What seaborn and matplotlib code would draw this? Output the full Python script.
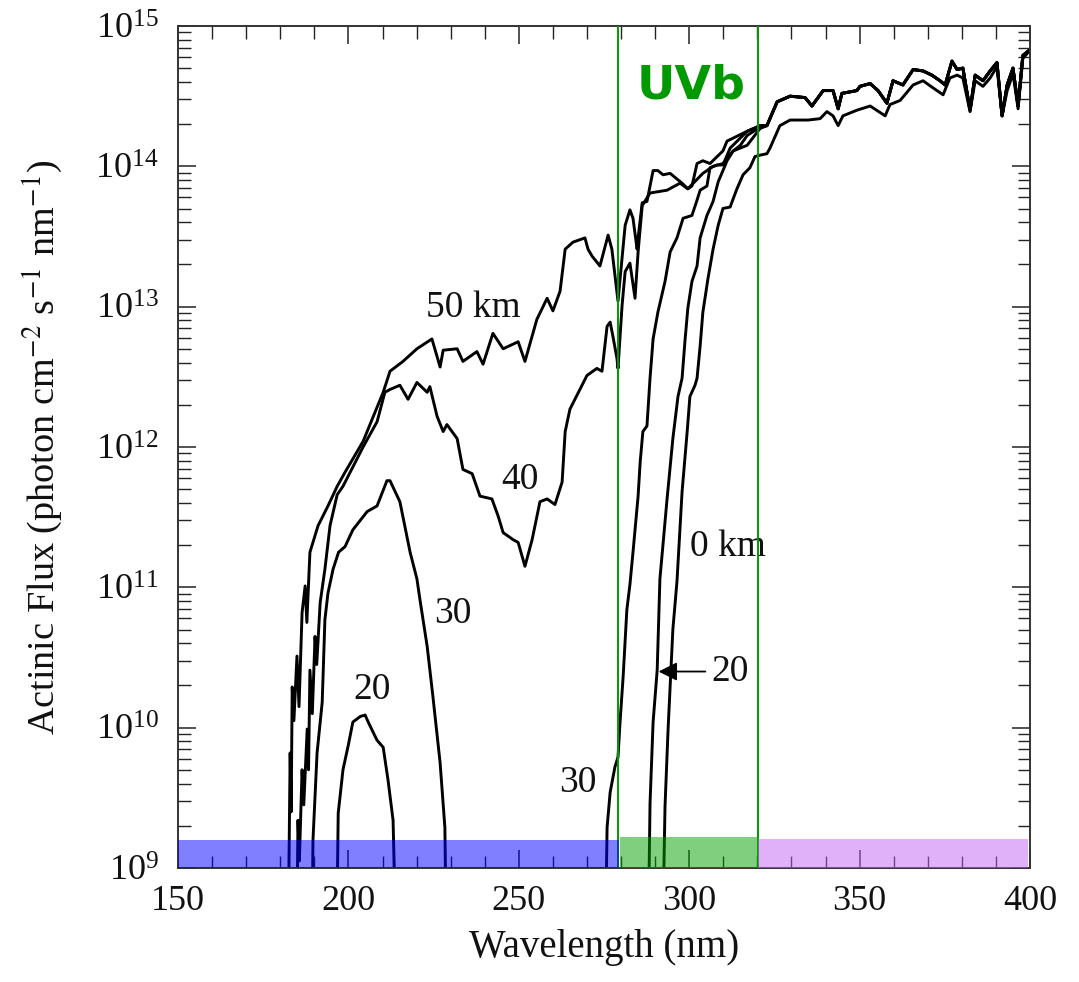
import numpy as np
import pandas as pd
import matplotlib
matplotlib.use("Agg")
import matplotlib.pyplot as plt
import seaborn as sns
from matplotlib.ticker import MultipleLocator, LogLocator, NullFormatter

# ---------------- data (wavelength nm, log10 actinic flux) ----------------
wl_50 = [182.1, 182.9, 183.2, 183.5, 184.0, 184.9, 185.5, 186.4, 187.3, 187.8, 188.7, 191.1, 194.0,
         196.7, 199.0, 204.3, 210.2, 212.2, 216.0, 220.1, 224.5, 226.9, 227.8, 231.9, 233.6, 237.7,
         239.5, 242.4, 245.4, 249.8, 251.8, 255.3, 258.3, 260.0, 262.1, 263.6, 265.9, 269.4, 270.3,
         271.5, 273.8, 276.2, 277.3, 279.1, 281.2, 282.6, 283.5, 284.7, 285.0, 286.2, 287.6, 288.5,
         289.4, 290.8, 292.3, 294.4, 296.4, 297.9, 299.6, 300.8, 302.3, 304.0, 306.1, 308.2, 309.9,
         311.1, 317.0, 320.8]
log_50 = [8.0, 9.82, 9.40, 10.29, 10.05, 10.51, 10.15, 10.82, 11.01, 10.75, 11.25, 11.44, 11.58,
          11.72, 11.82, 12.04, 12.39, 12.54, 12.61, 12.70, 12.77, 12.57, 12.69, 12.70, 12.61, 12.68,
          12.59, 12.81, 12.70, 12.75, 12.61, 12.91, 13.06, 12.97, 13.11, 13.41, 13.46, 13.49, 13.41,
          13.36, 13.29, 13.51, 13.41, 13.04, 13.58, 13.69, 13.63, 13.41, 13.49, 13.74, 13.75, 13.86,
          13.97, 13.97, 13.94, 13.95, 13.91, 13.88, 13.84, 13.86, 14.02, 14.04, 14.02, 14.07, 14.11,
          14.18, 14.25, 14.29]

wl_40 = [184.6, 185.2, 185.6, 186.4, 186.9, 187.9, 188.3, 188.7, 189.4, 190.2, 190.7, 191.7, 193.1,
         194.6, 196.7, 198.4, 204.3, 208.4, 210.7, 212.2, 215.1, 217.5, 220.1, 223.1, 223.9, 226.0,
         227.8, 228.9, 231.9, 233.6, 236.3, 238.6, 242.1, 243.9, 245.4, 248.3, 249.8, 251.8, 253.9,
         256.2, 258.3, 260.6, 262.7, 263.6, 265.0, 270.0, 272.9, 274.4, 275.9, 276.8, 277.6, 278.8,
         279.1, 280.3, 281.2, 282.6, 284.1, 285.0, 286.2, 288.5, 293.5, 297.3, 299.6, 304.0, 307.0,
         309.9, 312.9, 315.0, 317.0, 320.8]
log_40 = [8.0, 9.34, 9.05, 9.70, 9.45, 9.99, 9.70, 10.41, 10.10, 10.65, 10.45, 10.89, 11.13,
          11.44, 11.66, 11.72, 12.00, 12.18, 12.39, 12.41, 12.44, 12.34, 12.46, 12.39, 12.43, 12.22,
          12.11, 12.16, 12.06, 11.84, 11.81, 11.65, 11.63, 11.51, 11.39, 11.34, 11.32, 11.15, 11.34,
          11.61, 11.63, 11.59, 11.75, 12.11, 12.27, 12.51, 12.56, 12.54, 12.86, 12.89, 12.79, 12.63,
          12.56, 13.01, 13.25, 13.31, 13.06, 13.39, 13.72, 13.81, 13.83, 13.88, 13.84, 13.95, 14.00,
          14.02, 14.11, 14.15, 14.22, 14.28]

wl_30a = [189.1, 189.6, 190.8, 192.3, 193.1, 194.0, 195.5, 197.1, 199.0, 201.3, 205.5, 208.4,
          211.3, 212.2, 215.1, 218.1, 220.1, 221.0, 223.1, 224.8, 226.9, 228.3, 229.0]
log_30a = [8.0, 9.20, 9.82, 10.18, 10.77, 10.96, 11.13, 11.25, 11.29, 11.41, 11.54, 11.58,
           11.76, 11.76, 11.61, 11.25, 11.06, 10.91, 10.58, 10.22, 9.75, 9.29, 8.0]

wl_30b = [275.1, 275.9, 276.8, 278.2, 279.1, 279.7, 280.6, 281.7, 282.6, 283.5, 285.0, 285.6,
          286.4, 287.6, 288.5, 289.4, 290.8, 292.9, 294.4, 296.4, 298.2, 300.8, 302.3, 303.2,
          305.2, 306.1, 308.2, 309.9, 312.0, 317.0, 320.8]
log_30b = [8.0, 9.29, 9.54, 9.72, 9.79, 10.04, 10.36, 10.84, 11.02, 11.25, 11.65, 11.89,
           12.11, 12.15, 12.49, 12.77, 12.96, 13.18, 13.39, 13.49, 13.63, 13.65, 13.76, 13.83,
           13.86, 13.99, 14.01, 14.01, 14.13, 14.25, 14.29]

wl_20a = [196.3, 197.0, 198.4, 200.0, 201.3, 203.5, 204.9, 205.8, 208.4, 210.2, 211.6, 213.1, 214.4]
log_20a = [8.0, 9.39, 9.70, 9.88, 10.04, 10.08, 10.09, 10.04, 9.91, 9.86, 9.63, 9.34, 8.0]

wl_20b = [287.7, 288.5, 289.4, 290.6, 291.4, 293.5, 295.2, 296.7, 297.9, 298.8, 299.6, 300.8,
          302.3, 303.2, 305.2, 307.0, 308.5, 309.9, 311.1, 312.9, 317.0, 320.8]
log_20b = [8.0, 9.46, 10.04, 10.41, 11.06, 11.63, 12.06, 12.36, 12.49, 12.77, 12.99, 13.18,
           13.29, 13.49, 13.65, 13.75, 13.89, 13.97, 14.04, 14.11, 14.15, 14.27]

wl_0 = [291.8, 292.9, 293.8, 295.2, 296.4, 297.9, 299.4, 300.2, 301.7, 302.3, 303.2, 304.0,
        305.5, 307.0, 308.5, 309.9, 312.0, 314.0, 315.8, 317.8, 319.3, 320.8, 322.8]
log_0 = [8.0, 9.44, 9.99, 10.70, 11.04, 11.68, 12.11, 12.36, 12.44, 12.49, 12.72, 12.96,
         13.20, 13.41, 13.58, 13.70, 13.71, 13.84, 13.94, 13.99, 14.07, 14.08, 14.09]

# long-wavelength parts shared by the upper altitudes / the ground curve
wl_upper = [322.8, 325.8, 329.6, 334.0, 336.0, 339.3, 342.2, 343.7, 344.8, 349.2, 350.1, 353.1,
            355.4, 358.0, 359.8, 362.7, 365.7, 368.6, 371.2, 373.6, 375.1, 377.1, 378.6, 380.3,
            382.4, 383.9, 386.2, 388.3, 390.3, 391.8, 393.3, 395.0, 396.5, 397.9, 399.4, 400.0]
log_upper = [14.29, 14.46, 14.50, 14.49, 14.43, 14.54, 14.54, 14.41, 14.52, 14.54, 14.57, 14.59,
             14.54, 14.45, 14.61, 14.58, 14.69, 14.68, 14.65, 14.61, 14.58, 14.75, 14.69, 14.70,
             14.40, 14.65, 14.61, 14.68, 14.74, 14.36, 14.58, 14.70, 14.43, 14.79, 14.82, 14.83]
wl_lower = [323.7, 326.6, 329.6, 334.9, 338.4, 340.4, 342.2, 343.7, 345.1, 349.2, 353.1, 357.5,
            358.9, 361.9, 365.7, 368.6, 371.5, 374.5, 376.5, 378.6, 380.3, 382.4, 383.9, 386.2,
            388.3, 390.3, 391.8, 393.3, 395.0, 396.5, 397.9, 399.4, 400.0]
log_lower = [14.13, 14.29, 14.33, 14.33, 14.34, 14.39, 14.36, 14.29, 14.36, 14.40, 14.43, 14.36,
             14.44, 14.47, 14.58, 14.61, 14.56, 14.51, 14.63, 14.65, 14.63, 14.39, 14.61, 14.57,
             14.63, 14.71, 14.36, 14.54, 14.66, 14.41, 14.77, 14.81, 14.83]

segments = {
    "50 km": (wl_50 + wl_upper, log_50 + log_upper),
    "40 km": (wl_40 + wl_upper, log_40 + log_upper),
    "30 km a": (wl_30a, log_30a),
    "30 km b": (wl_30b + wl_upper, log_30b + log_upper),
    "20 km a": (wl_20a, log_20a),
    "20 km b": (wl_20b + wl_upper, log_20b + log_upper),
    "0 km": (wl_0 + wl_lower, log_0 + log_lower),
}

frames = []
for name, (w, l) in segments.items():
    frames.append(pd.DataFrame({"wavelength": w, "flux": 10.0 ** np.array(l), "segment": name}))
df = pd.concat(frames, ignore_index=True)

# ---------------- styling ----------------
sns.set_style("ticks")
plt.rcParams["font.family"] = ["Liberation Serif", "DejaVu Serif"]
plt.rcParams["mathtext.fontset"] = "stix"

fig = plt.figure(figsize=(10.79, 9.82), dpi=100)
ax = fig.add_axes([0.165, 0.1161, 0.7896, 0.8574])

sns.lineplot(data=df, x="wavelength", y="flux", units="segment", estimator=None,
             sort=False, color="black", linewidth=2.1, ax=ax, legend=False)

ax.set_yscale("log")
ax.set_xlim(150, 400)
ax.set_ylim(1e9, 1e15)

# spectral bands along the bottom
ax.fill_between([150, 279.4], 1e9, 10 ** 9.20, color="#0000ff", alpha=0.5, lw=0, zorder=5)
ax.fill_between([279.6, 320.0], 1e9, 10 ** 9.22, color="#00a000", alpha=0.5, lw=0, zorder=5)
ax.fill_between([320.2, 399.5], 1e9, 10 ** 9.21, color="#c264f2", alpha=0.5, lw=0, zorder=5)

# UVb limits
ax.axvline(279.0, color="#009a00", lw=1.4, zorder=4)
ax.axvline(320.2, color="#009a00", lw=1.4, zorder=4)
ax.text(300.5, 10 ** 14.57, "UVb", color="#009a00", fontsize=34, fontweight="bold",
        family="DejaVu Sans", ha="center", va="center")

# curve labels
lab = dict(fontsize=27, ha="center", va="center", color="#111111")
ax.text(236.6, 10 ** 12.99, "50 km", **lab)
ax.text(250.4, 10 ** 11.77, "40", **lab)
ax.text(230.7, 10 ** 10.81, "30", **lab)
ax.text(206.9, 10 ** 10.27, "20", **lab)
ax.text(267.4, 10 ** 9.61, "30", **lab)
ax.text(311.4, 10 ** 11.29, "0 km", **lab)
ax.annotate("20", xy=(291.0, 10 ** 10.40), xytext=(312.0, 10 ** 10.40),
            fontsize=27, ha="center", va="center", color="#111111",
            arrowprops=dict(arrowstyle="-|>", color="black", lw=1.3, mutation_scale=28,
                            shrinkA=2, shrinkB=0))

# axes / ticks
ax.xaxis.set_major_locator(MultipleLocator(50))
ax.xaxis.set_minor_locator(MultipleLocator(10))
ax.yaxis.set_major_locator(LogLocator(base=10, numticks=10))
ax.yaxis.set_minor_locator(LogLocator(base=10, subs=np.arange(2, 10), numticks=100))
ax.yaxis.set_minor_formatter(NullFormatter())
ax.xaxis.set_minor_formatter(NullFormatter())
ax.xaxis.get_offset_text().set_visible(False)
ax.yaxis.get_offset_text().set_visible(False)
ax.tick_params(which="both", direction="in", top=True, right=True, colors="#222222",
               labelcolor="#111111")
ax.tick_params(which="major", length=13, width=1.1, labelsize=26)
ax.tick_params(axis="x", which="major", pad=12)
ax.tick_params(axis="y", which="major", pad=14)
ax.tick_params(which="minor", length=9, width=1.0)
for s in ax.spines.values():
    s.set_linewidth(1.4)
    s.set_color("#333333")

ax.set_xlabel("Wavelength (nm)", fontsize=28, labelpad=8, color="#111111")
ax.set_ylabel(r"Actinic Flux (photon cm$^{-2}$ s$^{-1}$ nm$^{-1}$)", fontsize=27.5,
              labelpad=22, color="#111111")

fig.savefig("out.png", dpi=100)
